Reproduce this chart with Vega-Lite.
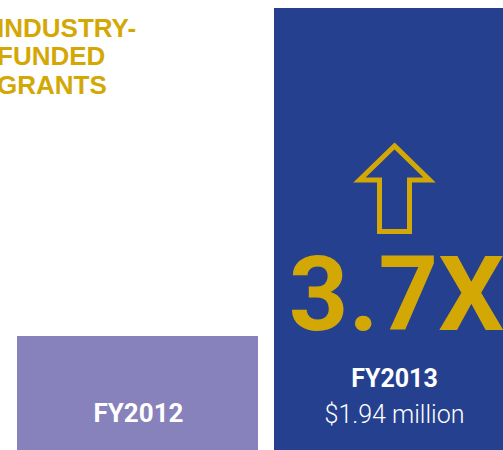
{
  "$schema": "https://vega.github.io/schema/vega-lite/v6.json",
  "width": 503,
  "height": 450,
  "autosize": {"type": "none"},
  "padding": 0,
  "background": "#ffffff",
  "config": {"view": {"stroke": null}},
  "datasets": {
    "bars": [
      {"year": "FY2012", "grants": 0.5, "label": "FY2012"},
      {"year": "FY2013", "grants": 1.94, "label": "FY2013", "amount": "$1.94 million", "multiple": "3.7X"}
    ],
    "heading": [
      {"year": "FY2012", "heading": "INDUSTRY-\nFUNDED\nGRANTS"}
    ]
  },
  "layer": [
    {
      "data": {"name": "bars"},
      "mark": {"type": "bar"},
      "encoding": {
        "x": {"field": "year", "type": "nominal", "axis": null,
              "scale": {"range": [17, 515], "paddingInner": 0.0623, "paddingOuter": 0}},
        "y": {"field": "grants", "type": "quantitative", "axis": null,
              "scale": {"domain": [0, 1.975], "nice": false}},
        "color": {"field": "year", "type": "nominal", "legend": null,
                  "scale": {"domain": ["FY2012", "FY2013"], "range": ["#8781BC", "#25408E"]}}
      }
    },
    {
      "data": {"name": "heading"},
      "mark": {"type": "text", "align": "left", "baseline": "alphabetic", "dx": -20,
               "font": "Liberation Sans", "fontWeight": "bold", "fontSize": 26, "lineHeight": 28.5,
               "lineBreak": "\n", "color": "#D4A804"},
      "encoding": {
        "x": {"field": "year", "type": "nominal", "bandPosition": 0},
        "y": {"datum": 1.813},
        "text": {"field": "heading"}
      }
    },
    {
      "data": {"name": "bars"},
      "transform": [{"filter": "datum.year === 'FY2012'"}],
      "mark": {"type": "text", "align": "center", "baseline": "alphabetic", "dx": 1,
               "font": "Roboto", "fontWeight": "bold", "fontSize": 26, "color": "#ffffff"},
      "encoding": {
        "x": {"field": "year", "type": "nominal"},
        "y": {"datum": 0.124},
        "text": {"field": "label"}
      }
    },
    {
      "data": {"name": "bars"},
      "transform": [{"filter": "datum.year === 'FY2013'"}],
      "mark": {"type": "text", "align": "center", "baseline": "alphabetic",
               "font": "Roboto", "fontWeight": "bold", "fontSize": 25, "color": "#ffffff"},
      "encoding": {
        "x": {"field": "year", "type": "nominal"},
        "y": {"datum": 0.278},
        "text": {"field": "label"}
      }
    },
    {
      "data": {"name": "bars"},
      "transform": [{"filter": "datum.year === 'FY2013'"}],
      "mark": {"type": "text", "align": "center", "baseline": "alphabetic",
               "font": "Roboto", "fontWeight": 300, "fontSize": 25, "color": "#ffffff"},
      "encoding": {
        "x": {"field": "year", "type": "nominal"},
        "y": {"datum": 0.12},
        "text": {"field": "amount"}
      }
    },
    {
      "data": {"name": "bars"},
      "transform": [{"filter": "datum.year === 'FY2013'"}],
      "mark": {"type": "text", "align": "center", "baseline": "alphabetic", "dx": 2,
               "font": "Roboto", "fontWeight": "bold", "fontSize": 104, "color": "#D4A804"},
      "encoding": {
        "x": {"field": "year", "type": "nominal"},
        "y": {"datum": 0.527},
        "text": {"field": "multiple"}
      }
    },
    {
      "data": {"name": "bars"},
      "transform": [{"filter": "datum.year === 'FY2013'"}],
      "mark": {"type": "point", "filled": false, "stroke": "#D4A804", "strokeWidth": 5, "opacity": 1,
               "strokeJoin": "miter",
               "shape": "M0,-1L0.819,-0.205L0.351,-0.205L0.351,1L-0.351,1L-0.351,-0.205L-0.819,-0.205Z",
               "size": 7310},
      "encoding": {
        "x": {"field": "year", "type": "nominal"},
        "y": {"datum": 1.147}
      }
    }
  ]
}
